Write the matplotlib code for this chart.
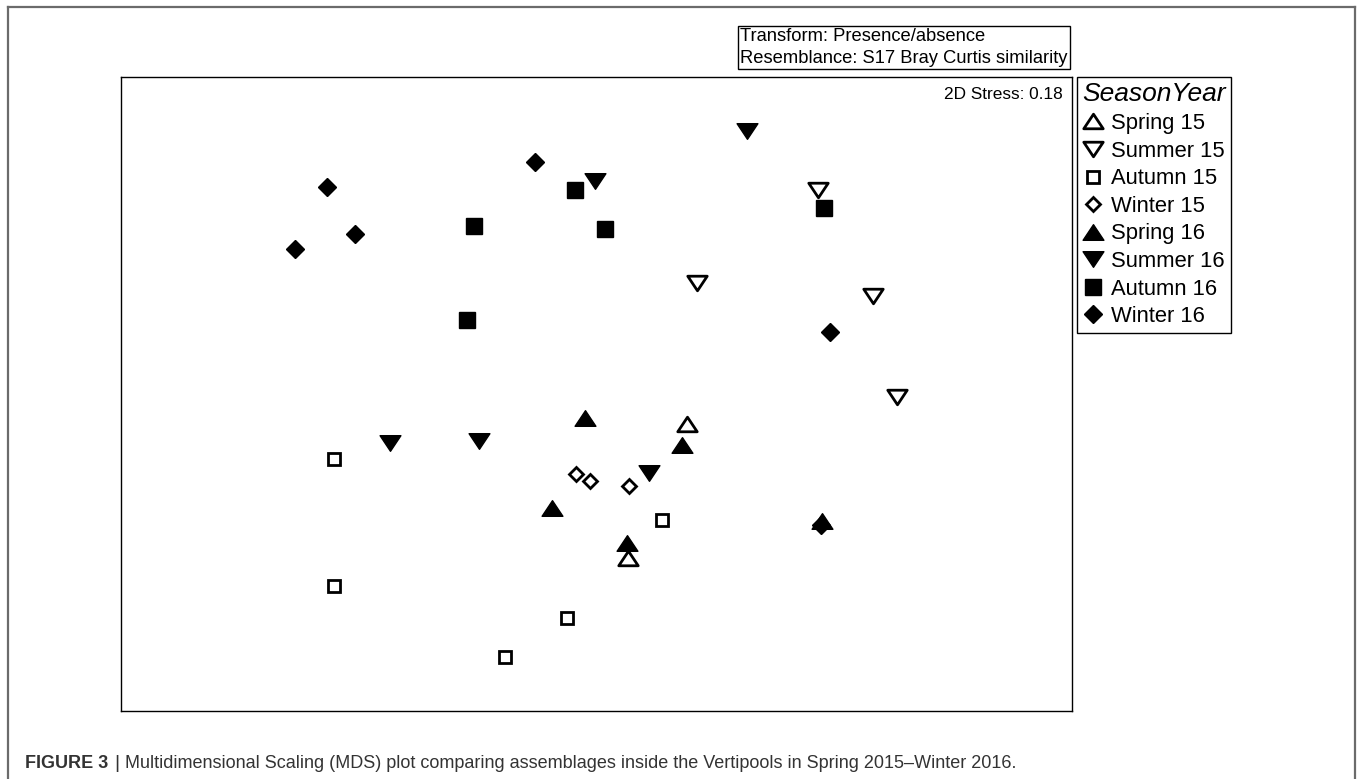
import matplotlib.pyplot as plt
import numpy as np
from matplotlib.lines import Line2D
from matplotlib.path import Path

plt.rcParams["font.family"] = ["Liberation Sans", "DejaVu Sans"]

# MDS ordination coordinates
SPRING15_X = [0.285, 0.099]
SPRING15_Y = [-0.095, -0.517]
SUMMER15_X = [0.699, 0.317, 0.872, 0.948]
SUMMER15_Y = [0.644, 0.350, 0.309, -0.009]
AUTUMN15_X = [-0.828, 0.207, -0.828, -0.093, -0.289]
AUTUMN15_Y = [-0.205, -0.397, -0.606, -0.707, -0.830]
WINTER15_X = [-0.065, -0.020, 0.103]
WINTER15_Y = [-0.252, -0.274, -0.290]
SPRING16_X = [-0.036, 0.270, -0.140, 0.096, 0.711]
SPRING16_Y = [-0.076, -0.161, -0.360, -0.470, -0.401]
SUMMER16_X = [0.475, -0.005, -0.651, -0.371, 0.166]
SUMMER16_Y = [0.830, 0.672, -0.155, -0.148, -0.249]
AUTUMN16_X = [-0.068, -0.386, 0.027, 0.718, -0.409]
AUTUMN16_Y = [0.644, 0.530, 0.521, 0.587, 0.233]
WINTER16_X = [-0.194, -0.850, -0.762, -0.951, 0.736, 0.708]
WINTER16_Y = [0.732, 0.653, 0.505, 0.457, 0.196, -0.413]

LABELS = ["Spring 15", "Summer 15", "Autumn 15", "Winter 15",
          "Spring 16", "Summer 16", "Autumn 16", "Winter 16"]
STRESS = 0.18

TRI_UP = Path([(-1, -0.75), (1, -0.75), (0, 0.75), (-1, -0.75)],
              [Path.MOVETO, Path.LINETO, Path.LINETO, Path.CLOSEPOLY])
TRI_DOWN = Path([(-1, 0.75), (1, 0.75), (0, -0.75), (-1, 0.75)],
                [Path.MOVETO, Path.LINETO, Path.LINETO, Path.CLOSEPOLY])

# marker, size, filled
STYLES = [
    (TRI_UP, 14, False),
    (TRI_DOWN, 14, False),
    ("s", 9, False),
    ("D", 7.5, False),
    (TRI_UP, 15, True),
    (TRI_DOWN, 15, True),
    ("s", 11, True),
    ("D", 9.5, True),
]

SERIES = [
    (SPRING15_X, SPRING15_Y), (SUMMER15_X, SUMMER15_Y),
    (AUTUMN15_X, AUTUMN15_Y), (WINTER15_X, WINTER15_Y),
    (SPRING16_X, SPRING16_Y), (SUMMER16_X, SUMMER16_Y),
    (AUTUMN16_X, AUTUMN16_Y), (WINTER16_X, WINTER16_Y),
]

W, H = 1358, 779
fig = plt.figure(figsize=(W / 100, H / 100), dpi=100)


def fx(px):
    return px / W


def fy(py):
    return 1 - py / H


# outer gray frame (open at the bottom)
frame_kw = dict(color="#6b6b6b", lw=1.6, transform=fig.transFigure)
fig.add_artist(Line2D([fx(8), fx(8)], [fy(7), 0], **frame_kw))
fig.add_artist(Line2D([fx(8), fx(1355)], [fy(7), fy(7)], **frame_kw))
fig.add_artist(Line2D([fx(1355), fx(1355)], [fy(7), 0], **frame_kw))

ax = fig.add_axes([fx(121), fy(711), fx(1072) - fx(121), fy(77) - fy(711)])
ax.set_xlim(-1.5, 1.5)
ax.set_ylim(-1.0, 1.0)
ax.set_xticks([])
ax.set_yticks([])
for spine in ax.spines.values():
    spine.set_linewidth(1.0)
    spine.set_color("black")

handles = []
for (xs, ys), (marker, size, filled), label in zip(SERIES, STYLES, LABELS):
    face = "black" if filled else "white"
    mew = 1.0 if filled else 2.0
    ax.plot(xs, ys, linestyle="none", marker=marker, markersize=size,
            markerfacecolor=face, markeredgecolor="black",
            markeredgewidth=mew, zorder=4 if filled else 3)
    handles.append(Line2D([0], [0], linestyle="none", marker=marker,
                          markersize=size, markerfacecolor=face,
                          markeredgecolor="black", markeredgewidth=mew))

ax.text(0.99, 0.985, f"2D Stress: {STRESS:.2f}", transform=ax.transAxes,
        ha="right", va="top", fontsize=12.4)

leg = fig.legend(handles, LABELS, loc="upper left",
                 bbox_to_anchor=(fx(1077), fy(77)), borderaxespad=0,
                 fancybox=False, edgecolor="black", framealpha=1,
                 fontsize=15.8, title="SeasonYear",
                 title_fontproperties={"size": 19, "style": "italic"},
                 handlelength=0.8, handletextpad=0.4, labelspacing=0.3,
                 borderpad=0.25)
leg.get_frame().set_linewidth(1.0)

fig.text(fx(740), fy(47.5), "Transform: Presence/absence\nResemblance: S17 Bray Curtis similarity",
         ha="left", va="center", fontsize=13.2, linespacing=1.38,
         bbox=dict(boxstyle="square,pad=0.12", facecolor="white",
                   edgecolor="black", linewidth=1.0))

fig.text(fx(25), fy(764), "FIGURE 3", ha="left", va="center",
         fontsize=13, fontweight="bold", color="#333333")
fig.text(fx(114), fy(763), "|", ha="left", va="center",
         fontsize=14, color="#333333")
fig.text(fx(125), fy(764),
         "Multidimensional Scaling (MDS) plot comparing assemblages inside the "
         "Vertipools in Spring 2015\u2013Winter 2016.",
         ha="left", va="center", fontsize=13, color="#333333")

fig.savefig("out.png", dpi=100)
